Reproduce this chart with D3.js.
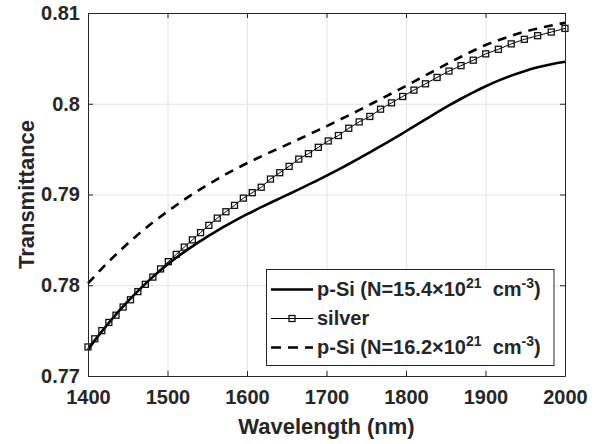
<!DOCTYPE html>
<html>
<head>
<meta charset="utf-8">
<script src="https://cdn.jsdelivr.net/npm/d3@7"></script>
<style>
  body { margin: 0; background: #fff; }
  text { font-family: "Liberation Sans", Arial, sans-serif; font-weight: bold; fill: #262626; }
</style>
</head>
<body>
<svg id="canvas" width="594" height="444"></svg>
<script>
let wavelength = [
  1400, 1408.6, 1417.4, 1426.2, 1435.2, 1444.2, 1453.4, 1462.7, 1472.1, 1481.6,
  1491.3, 1501.1, 1511.0, 1521.1, 1531.3, 1541.6, 1552.0, 1562.6, 1573.4, 1584.3,
  1595.4, 1606.6, 1617.9, 1629.5, 1641.2, 1653.0, 1665.1, 1677.3, 1689.7, 1702.2,
  1715.0, 1728.0, 1741.1, 1754.5, 1768.0, 1781.8, 1795.8, 1810.0, 1824.5, 1839.1,
  1854.1, 1869.2, 1884.6, 1900.3, 1916.2, 1932.4, 1948.9, 1965.6, 1982.7, 2000
];

let pSi154 = [
  0.77290, 0.77391, 0.77490, 0.77586, 0.77678, 0.77767, 0.77852, 0.77935, 0.78015, 0.78092,
  0.78165, 0.78236, 0.78303, 0.78368, 0.78429, 0.78488, 0.78546, 0.78601, 0.78656, 0.78709,
  0.78761, 0.78810, 0.78860, 0.78909, 0.78958, 0.79006, 0.79056, 0.79108, 0.79161, 0.79217,
  0.79275, 0.79336, 0.79399, 0.79464, 0.79532, 0.79602, 0.79675, 0.79750, 0.79827, 0.79904,
  0.79981, 0.80055, 0.80126, 0.80193, 0.80255, 0.80310, 0.80359, 0.80401, 0.80436, 0.80463
];

let silver = [
  0.7732, 0.7741, 0.7750, 0.7759, 0.7767, 0.7776, 0.7784, 0.7793, 0.7801, 0.7809,
  0.7818, 0.7826, 0.7834, 0.7842, 0.7850, 0.7858, 0.7866, 0.7874, 0.7881, 0.7888,
  0.7896, 0.7902, 0.7908, 0.7917, 0.7924, 0.7931, 0.7939, 0.7945, 0.7952, 0.7959,
  0.7965, 0.7973, 0.7980, 0.7986, 0.7994, 0.8001, 0.8008, 0.8015, 0.8022, 0.8029,
  0.8036, 0.8042, 0.8048, 0.8055, 0.8060, 0.8066, 0.8071, 0.8075, 0.8079, 0.8083
];

let pSi162 = [
  0.78020, 0.78102, 0.78183, 0.78262, 0.78339, 0.78413, 0.78487, 0.78557, 0.78626, 0.78692,
  0.78756, 0.78821, 0.78881, 0.78943, 0.79002, 0.79059, 0.79115, 0.79169, 0.79224, 0.79274,
  0.79325, 0.79373, 0.79420, 0.79467, 0.79513, 0.79560, 0.79609, 0.79659, 0.79710, 0.79762,
  0.79817, 0.79872, 0.79930, 0.79990, 0.80050, 0.80113, 0.80178, 0.80244, 0.80312, 0.80380,
  0.80450, 0.80518, 0.80584, 0.80648, 0.80700, 0.80749, 0.80793, 0.80829, 0.80862, 0.80891
];

let xTicks = [1400, 1500, 1600, 1700, 1800, 1900, 2000];
let yTicks = [0.77, 0.78, 0.79, 0.8, 0.81];
let yTickLabels = ["0.77", "0.78", "0.79", "0.8", "0.81"];

let plotLeft = 88, plotRight = 565, plotTop = 13, plotBottom = 376;

let canvas = d3.select("#canvas");

let xScale = d3.scaleLinear().domain([1400, 2000]).range([plotLeft, plotRight]);
let yScale = d3.scaleLinear().domain([0.77, 0.81]).range([plotBottom, plotTop]);

// grid
canvas.append("g")
  .attr("transform", "translate(0," + plotBottom + ")")
  .call(d3.axisBottom(xScale).tickValues(xTicks).tickSize(-(plotBottom - plotTop)).tickFormat(""))
  .call((g) => g.select(".domain").remove())
  .selectAll("line").attr("stroke", "#e3e3e3").attr("stroke-width", 1);

canvas.append("g")
  .attr("transform", "translate(" + plotLeft + ",0)")
  .call(d3.axisLeft(yScale).tickValues(yTicks).tickSize(-(plotRight - plotLeft)).tickFormat(""))
  .call((g) => g.select(".domain").remove())
  .selectAll("line").attr("stroke", "#e3e3e3").attr("stroke-width", 1);

// series
let rows = wavelength.map((w, i) => ({ w: w, a: pSi154[i], s: silver[i], b: pSi162[i] }));

let lineFor = (key) => d3.line()
  .x((d) => xScale(d.w))
  .y((d) => yScale(d[key]));

canvas.append("path")
  .datum(rows)
  .attr("d", lineFor("b").curve(d3.curveMonotoneX))
  .attr("fill", "none")
  .attr("stroke", "#000")
  .attr("stroke-width", 2.6)
  .attr("stroke-dasharray", "9,7");

canvas.append("path")
  .datum(rows)
  .attr("d", lineFor("a").curve(d3.curveMonotoneX))
  .attr("fill", "none")
  .attr("stroke", "#000")
  .attr("stroke-width", 2.6);

canvas.append("path")
  .datum(rows)
  .attr("d", lineFor("s"))
  .attr("fill", "none")
  .attr("stroke", "#000")
  .attr("stroke-width", 1);

canvas.selectAll("rect.marker")
  .data(rows)
  .enter()
  .append("rect")
  .attr("class", "marker")
  .attr("x", (d) => xScale(d.w) - 3)
  .attr("y", (d) => yScale(d.s) - 3)
  .attr("width", 6)
  .attr("height", 6)
  .attr("fill", "none")
  .attr("stroke", "#111")
  .attr("stroke-width", 1.3);

// axes
let xAxis = canvas.append("g")
  .attr("transform", "translate(0," + plotBottom + ")")
  .call(d3.axisBottom(xScale).tickValues(xTicks).tickSizeInner(-5).tickSizeOuter(0).tickPadding(14).tickFormat(d3.format("d")));

let yAxis = canvas.append("g")
  .attr("transform", "translate(" + plotLeft + ",0)")
  .call(d3.axisLeft(yScale).tickValues(yTicks).tickSizeInner(-5).tickSizeOuter(0).tickPadding(8)
    .tickFormat((d, i) => yTickLabels[i]));

let xTop = canvas.append("g")
  .attr("transform", "translate(0," + plotTop + ")")
  .call(d3.axisTop(xScale).tickValues(xTicks).tickSizeInner(-5).tickSizeOuter(0).tickFormat(""));

let yRight = canvas.append("g")
  .attr("transform", "translate(" + plotRight + ",0)")
  .call(d3.axisRight(yScale).tickValues(yTicks).tickSizeInner(-5).tickSizeOuter(0).tickFormat(""));

[xAxis, yAxis, xTop, yRight].forEach((g) => {
  g.select(".domain").attr("stroke", "#262626").attr("stroke-width", 1);
  g.selectAll(".tick line").attr("stroke", "#262626");
  g.selectAll("text")
    .attr("font-family", "'Liberation Sans', Arial, sans-serif")
    .attr("font-weight", "bold")
    .attr("font-size", 20)
    .attr("fill", "#262626");
});

// axis titles
canvas.append("text")
  .attr("x", (plotLeft + plotRight) / 2)
  .attr("y", 433.5)
  .attr("text-anchor", "middle")
  .attr("font-size", 22)
  .text("Wavelength (nm)");

canvas.append("text")
  .attr("transform", "translate(33.5," + (plotTop + plotBottom) / 2 + ") rotate(-90)")
  .attr("text-anchor", "middle")
  .attr("font-size", 22)
  .text("Transmittance");

// legend
let legend = canvas.append("g");

legend.append("rect")
  .attr("x", 266.5)
  .attr("y", 269.5)
  .attr("width", 287.5)
  .attr("height", 96)
  .attr("fill", "#fff")
  .attr("stroke", "#262626")
  .attr("stroke-width", 1);

let legendItems = [
  { label: ["p-Si (N=15.4×10", "21", " cm", "-3", ")"], dash: null, width: 2.6, marker: false },
  { label: ["silver"], dash: null, width: 1, marker: true },
  { label: ["p-Si (N=16.2×10", "21", " cm", "-3", ")"], dash: "10,7", width: 2.6, marker: false }
];
let legendRowY = [289.5, 318.5, 347.5];

legendItems.forEach((item, i) => {
  let y = legendRowY[i];
  legend.append("line")
    .attr("x1", 271).attr("x2", 313)
    .attr("y1", y).attr("y2", y)
    .attr("stroke", "#000")
    .attr("stroke-width", item.width)
    .attr("stroke-dasharray", item.dash);
  if (item.marker) {
    legend.append("rect")
      .attr("x", 289).attr("y", y - 3)
      .attr("width", 6).attr("height", 6)
      .attr("fill", "none")
      .attr("stroke", "#111")
      .attr("stroke-width", 1.3);
  }
  let t = legend.append("text")
    .attr("x", 317)
    .attr("y", y + 6.5)
    .attr("font-size", 20);
  if (item.label.length === 1) {
    t.text(item.label[0]);
  } else {
    t.append("tspan").text(item.label[0]);
    t.append("tspan").attr("dy", -8).attr("font-size", 14).text(item.label[1]);
    t.append("tspan").attr("dy", 8).attr("xml:space", "preserve").text(" " + item.label[2]);
    t.append("tspan").attr("dy", -8).attr("font-size", 14).text(item.label[3]);
    t.append("tspan").attr("dy", 8).text(item.label[4]);
  }
});
</script>
</body>
</html>
